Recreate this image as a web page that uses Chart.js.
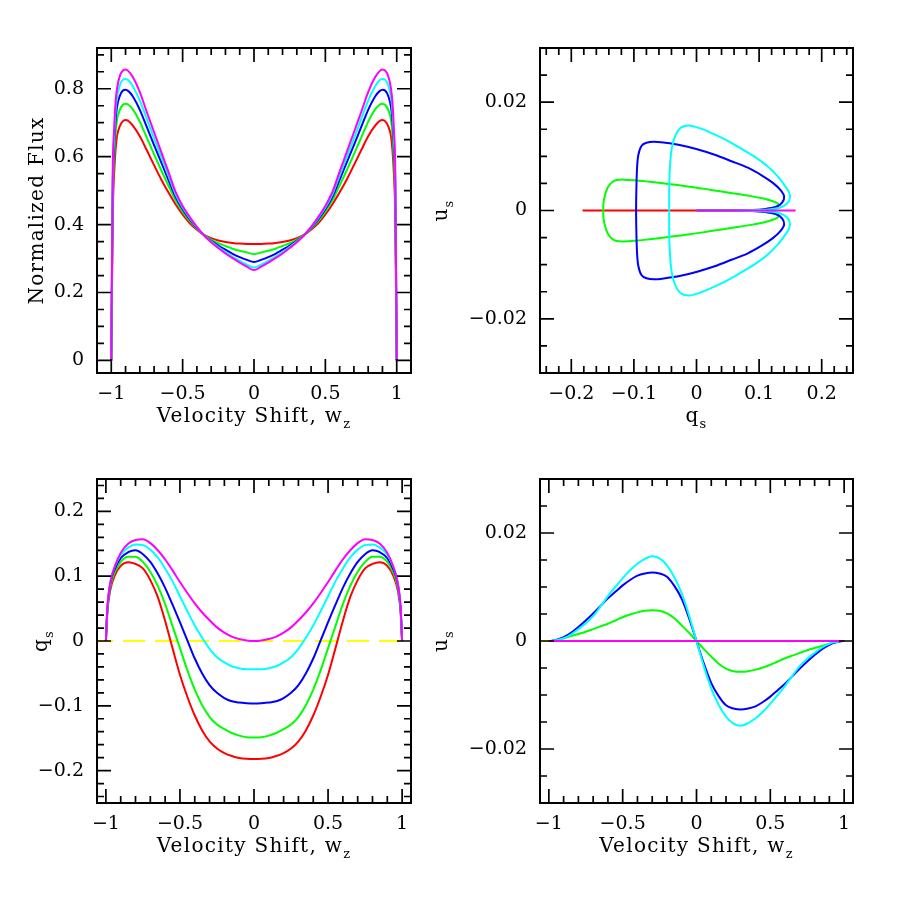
<!DOCTYPE html>
<html>
<head>
<meta charset="utf-8">
<script src="https://cdn.jsdelivr.net/npm/chart.js@4.4.1/dist/chart.umd.min.js"></script>
<style>
  html, body { margin: 0; padding: 0; background: #fff; }
  #page { position: relative; width: 900px; height: 900px; overflow: hidden; background: #fff; }
  canvas { position: absolute; }
</style>
</head>
<body>
<div id="page">
  <canvas id="flux"></canvas>
  <canvas id="qu"></canvas>
  <canvas id="qs"></canvas>
  <canvas id="us"></canvas>
</div>
<script>
// ---- top-left: normalized flux vs velocity shift
const wFlux = [-1, -0.99, -0.98, -0.97, -0.96, -0.94, -0.92, -0.9, -0.88, -0.85, -0.8, -0.75, -0.7, -0.65, -0.6, -0.55, -0.5, -0.45, -0.4, -0.35, -0.3, -0.25, -0.2, -0.15, -0.1, -0.05,
  0, 0.05, 0.1, 0.15, 0.2, 0.25, 0.3, 0.35, 0.4, 0.45, 0.5, 0.55, 0.6, 0.65, 0.7, 0.75, 0.8, 0.85, 0.88, 0.9, 0.92, 0.94, 0.96, 0.97, 0.98, 0.99, 1];
const fluxRed = [0, 0.42, 0.55, 0.62, 0.66, 0.69, 0.704, 0.708, 0.705, 0.692, 0.66, 0.618, 0.575, 0.533, 0.495, 0.46, 0.43, 0.404, 0.385, 0.37, 0.36, 0.353, 0.349, 0.346, 0.344, 0.343,
  0.343, 0.343, 0.344, 0.346, 0.349, 0.353, 0.36, 0.37, 0.385, 0.404, 0.43, 0.46, 0.495, 0.533, 0.575, 0.618, 0.66, 0.692, 0.705, 0.708, 0.704, 0.69, 0.66, 0.62, 0.55, 0.42, 0];
const fluxGreen = [0, 0.46, 0.595, 0.668, 0.708, 0.738, 0.752, 0.756, 0.753, 0.74, 0.703, 0.655, 0.607, 0.56, 0.515, 0.472, 0.438, 0.41, 0.388, 0.37, 0.356, 0.345, 0.337, 0.329, 0.323, 0.318,
  0.313, 0.318, 0.323, 0.329, 0.337, 0.345, 0.356, 0.37, 0.388, 0.41, 0.438, 0.472, 0.515, 0.56, 0.607, 0.655, 0.703, 0.74, 0.753, 0.756, 0.752, 0.738, 0.708, 0.668, 0.595, 0.46, 0];
const fluxBlue = [0, 0.5, 0.63, 0.705, 0.746, 0.779, 0.794, 0.797, 0.793, 0.778, 0.738, 0.686, 0.634, 0.583, 0.532, 0.482, 0.445, 0.415, 0.39, 0.369, 0.352, 0.338, 0.326, 0.314, 0.304, 0.296,
  0.29, 0.296, 0.304, 0.314, 0.326, 0.338, 0.352, 0.369, 0.39, 0.415, 0.445, 0.482, 0.532, 0.583, 0.634, 0.686, 0.738, 0.778, 0.793, 0.797, 0.794, 0.779, 0.746, 0.705, 0.63, 0.5, 0];
const fluxCyan = [0, 0.525, 0.655, 0.735, 0.775, 0.81, 0.826, 0.829, 0.825, 0.808, 0.765, 0.71, 0.654, 0.6, 0.545, 0.49, 0.45, 0.419, 0.392, 0.368, 0.35, 0.334, 0.319, 0.305, 0.293, 0.282,
  0.274, 0.282, 0.293, 0.305, 0.319, 0.334, 0.35, 0.368, 0.392, 0.419, 0.45, 0.49, 0.545, 0.6, 0.654, 0.71, 0.765, 0.808, 0.825, 0.829, 0.826, 0.81, 0.775, 0.735, 0.655, 0.525, 0];
const fluxMagenta = [0, 0.55, 0.68, 0.76, 0.8, 0.838, 0.853, 0.857, 0.852, 0.835, 0.79, 0.73, 0.672, 0.614, 0.556, 0.497, 0.455, 0.422, 0.393, 0.368, 0.348, 0.331, 0.315, 0.301, 0.288, 0.276,
  0.266, 0.276, 0.288, 0.301, 0.315, 0.331, 0.348, 0.368, 0.393, 0.422, 0.455, 0.497, 0.556, 0.614, 0.672, 0.73, 0.79, 0.835, 0.852, 0.857, 0.853, 0.838, 0.8, 0.76, 0.68, 0.55, 0];

// ---- polarization q_s and u_s vs velocity shift (same grid, also used for the q-u plane)
const wPol = [-1, -0.99, -0.97, -0.94, -0.9, -0.85, -0.8, -0.75, -0.7, -0.65, -0.6, -0.55, -0.5, -0.45, -0.4, -0.35, -0.3, -0.25, -0.2, -0.15, -0.1, -0.05,
  0, 0.05, 0.1, 0.15, 0.2, 0.25, 0.3, 0.35, 0.4, 0.45, 0.5, 0.55, 0.6, 0.65, 0.7, 0.75, 0.8, 0.85, 0.9, 0.94, 0.97, 0.99, 1];
const qRed = [0, 0.045, 0.079, 0.101, 0.116, 0.1215, 0.119, 0.112, 0.094, 0.068, 0.031, -0.011, -0.052, -0.086, -0.115, -0.138, -0.155, -0.166, -0.173, -0.1775, -0.1805, -0.1817,
  -0.182, -0.1817, -0.1805, -0.1775, -0.173, -0.166, -0.155, -0.138, -0.115, -0.086, -0.052, -0.011, 0.031, 0.068, 0.094, 0.112, 0.119, 0.1215, 0.116, 0.101, 0.079, 0.045, 0];
const qGreen = [0, 0.047, 0.084, 0.106, 0.122, 0.13, 0.13, 0.122, 0.107, 0.085, 0.057, 0.023, -0.011, -0.045, -0.075, -0.099, -0.117, -0.129, -0.136, -0.142, -0.146, -0.1485,
  -0.149, -0.1485, -0.146, -0.142, -0.136, -0.129, -0.117, -0.099, -0.075, -0.045, -0.011, 0.023, 0.057, 0.085, 0.107, 0.122, 0.13, 0.13, 0.122, 0.106, 0.084, 0.047, 0];
const qBlue = [0, 0.049, 0.089, 0.111, 0.128, 0.137, 0.14, 0.134, 0.122, 0.104, 0.082, 0.056, 0.029, 0.001, -0.027, -0.05, -0.068, -0.08, -0.088, -0.093, -0.095, -0.096,
  -0.0965, -0.096, -0.095, -0.093, -0.088, -0.08, -0.068, -0.05, -0.027, 0.001, 0.029, 0.056, 0.082, 0.104, 0.122, 0.134, 0.14, 0.137, 0.128, 0.111, 0.089, 0.049, 0];
const qCyan = [0, 0.05, 0.092, 0.115, 0.133, 0.144, 0.149, 0.148, 0.141, 0.129, 0.112, 0.092, 0.069, 0.046, 0.024, 0.005, -0.012, -0.025, -0.033, -0.039, -0.042, -0.0435,
  -0.0437, -0.0435, -0.042, -0.039, -0.033, -0.025, -0.012, 0.005, 0.024, 0.046, 0.069, 0.092, 0.112, 0.129, 0.141, 0.148, 0.149, 0.144, 0.133, 0.115, 0.092, 0.05, 0];
const qMagenta = [0, 0.052, 0.09, 0.115, 0.136, 0.15, 0.156, 0.157, 0.151, 0.14, 0.126, 0.109, 0.091, 0.074, 0.058, 0.044, 0.032, 0.021, 0.013, 0.0068, 0.003, 0.0008,
  0, 0.0008, 0.003, 0.0068, 0.013, 0.021, 0.032, 0.044, 0.058, 0.074, 0.091, 0.109, 0.126, 0.14, 0.151, 0.157, 0.156, 0.15, 0.136, 0.115, 0.09, 0.052, 0];

const uRed = [0, 0, 0, 0, 0, 0, 0, 0, 0, 0, 0, 0, 0, 0, 0, 0, 0, 0, 0, 0, 0, 0,
  0, 0, 0, 0, 0, 0, 0, 0, 0, 0, 0, 0, 0, 0, 0, 0, 0, 0, 0, 0, 0, 0, 0];
const uGreen = [0, 0, 0.0001, 0.0002, 0.0005, 0.0009, 0.0013, 0.0017, 0.0022, 0.0027, 0.0032, 0.0038, 0.0044, 0.0049, 0.0053, 0.0056, 0.0057, 0.0056, 0.0051, 0.0042, 0.0029, 0.0015,
  0, -0.0015, -0.0029, -0.0042, -0.0051, -0.0056, -0.0057, -0.0056, -0.0053, -0.0049, -0.0044, -0.0038, -0.0032, -0.0027, -0.0022, -0.0017, -0.0013, -0.0009, -0.0005, -0.0002, -0.0001, 0, 0];
const uBlue = [0, 0, 0.0001, 0.0003, 0.0007, 0.0015, 0.0026, 0.0038, 0.0051, 0.0065, 0.0079, 0.0091, 0.0103, 0.0113, 0.0121, 0.0125, 0.0127, 0.0125, 0.0119, 0.0102, 0.0078, 0.0042,
  0, -0.0042, -0.0078, -0.0102, -0.0119, -0.0125, -0.0127, -0.0125, -0.0121, -0.0113, -0.0103, -0.0091, -0.0079, -0.0065, -0.0051, -0.0038, -0.0026, -0.0015, -0.0007, -0.0003, -0.0001, 0, 0];
const uCyan = [0, 0, 0.0001, 0.0002, 0.0005, 0.0012, 0.0022, 0.0033, 0.0046, 0.0064, 0.0083, 0.01, 0.0116, 0.0131, 0.0143, 0.0152, 0.0157, 0.0153, 0.014, 0.0118, 0.0088, 0.0047,
  0, -0.0047, -0.0088, -0.0118, -0.014, -0.0153, -0.0157, -0.0152, -0.0143, -0.0131, -0.0116, -0.01, -0.0083, -0.0064, -0.0046, -0.0033, -0.0022, -0.0012, -0.0005, -0.0002, -0.0001, 0, 0];
const uMagenta = [0, 0, 0, 0, 0, 0, 0, 0, 0, 0, 0, 0, 0, 0, 0, 0, 0, 0, 0, 0, 0, 0,
  0, 0, 0, 0, 0, 0, 0, 0, 0, 0, 0, 0, 0, 0, 0, 0, 0, 0, 0, 0, 0, 0, 0];

// zero reference (yellow dashed)
const zeroLineX = [-1.1, 1];
const zeroLineY = [0, 0];

const colors = { red: '#ff0000', green: '#00ff00', blue: '#0000ff', cyan: '#00ffff', magenta: '#ff00ff', yellow: '#ffff00' };

// ---------- helpers
function fmt(v) {
  const r = Math.round(v * 1e6) / 1e6;
  return r === 0 ? '0' : String(r).replace('-', '\u2212');
}

function pts(xs, ys) {
  return xs.map((x, i) => ({ x: x, y: ys[i] }));
}

// order: lower numbers are painted last (on top)
function line(xs, ys, color, order, extra) {
  return Object.assign({
    data: pts(xs, ys),
    showLine: true,
    borderColor: color,
    borderWidth: 2,
    pointRadius: 0,
    fill: false,
    order: order,
    cubicInterpolationMode: 'monotone'
  }, extra || {});
}

function majorValues(min, max, step) {
  const out = [];
  const n0 = Math.ceil(min / step - 1e-6), n1 = Math.floor(max / step + 1e-6);
  for (let n = n0; n <= n1; n++) out.push({ value: Math.round(n * step * 1e6) / 1e6 });
  return out;
}

function tickMarks(scale, minor, major, cb) {
  const n0 = Math.ceil(scale.min / minor - 1e-6);
  const n1 = Math.floor(scale.max / minor + 1e-6);
  for (let n = n0; n <= n1; n++) {
    const v = n * minor;
    const isMajor = Math.abs(v / major - Math.round(v / major)) < 1e-6;
    cb(scale.getPixelForValue(v), isMajor ? 14 : 7);
  }
}

function axisTitle(ctx, main, sub, cx, cy, rotate) {
  ctx.save();
  ctx.translate(cx, cy);
  if (rotate) ctx.rotate(-Math.PI / 2);
  ctx.textAlign = 'left';
  ctx.textBaseline = 'alphabetic';
  ctx.letterSpacing = '1.3px';
  ctx.font = '20px "DejaVu Serif"';
  const w1 = ctx.measureText(main).width;
  ctx.font = '13px "DejaVu Serif"';
  const w2 = sub ? ctx.measureText(sub).width : 0;
  const x0 = -(w1 + w2) / 2;
  ctx.font = '20px "DejaVu Serif"';
  ctx.fillText(main, x0, 0);
  if (sub) {
    ctx.font = '13px "DejaVu Serif"';
    ctx.fillText(sub, x0 + w1, 6);
  }
  ctx.restore();
}

// frame with inward ticks on all four sides, plus axis titles
const frameTicks = {
  id: 'frameTicks',
  afterDatasetsDraw(chart, args, o) {
    const ctx = chart.ctx, a = chart.chartArea;
    const sx = chart.scales.x, sy = chart.scales.y;
    ctx.save();
    ctx.strokeStyle = '#000';
    ctx.lineWidth = 1.7;
    ctx.beginPath();
    tickMarks(sx, o.xMinor, o.xMajor, (p, len) => {
      ctx.moveTo(p, a.bottom); ctx.lineTo(p, a.bottom - len);
      ctx.moveTo(p, a.top); ctx.lineTo(p, a.top + len);
    });
    tickMarks(sy, o.yMinor, o.yMajor, (p, len) => {
      ctx.moveTo(a.left, p); ctx.lineTo(a.left + len, p);
      ctx.moveTo(a.right, p); ctx.lineTo(a.right - len, p);
    });
    ctx.stroke();
    ctx.lineWidth = 2;
    ctx.strokeRect(a.left, a.top, a.right - a.left, a.bottom - a.top);
    ctx.fillStyle = '#000';
    axisTitle(ctx, o.xTitle, o.xSub, (a.left + a.right) / 2, a.bottom + 49, false);
    axisTitle(ctx, o.yTitle, o.ySub, a.left - o.yGap, (a.top + a.bottom) / 2, true);
    ctx.restore();
  }
};

function makeChart(id, box, area, datasets, ax) {
  const cv = document.getElementById(id);
  cv.width = box.w; cv.height = box.h;
  cv.style.left = box.left + 'px';
  cv.style.top = box.top + 'px';
  const yw = area.l - box.left;
  const xh = box.top + box.h - area.b;
  const tickFont = { family: 'DejaVu Serif', size: 19 };
  return new Chart(cv, {
    type: 'scatter',
    data: { datasets: datasets },
    options: {
      responsive: false,
      animation: false,
      devicePixelRatio: 1,
      events: [],
      layout: { padding: { left: 0, top: area.t - box.top, right: box.left + box.w - area.r, bottom: 0 } },
      plugins: {
        legend: { display: false },
        tooltip: { enabled: false },
        frameTicks: ax
      },
      scales: {
        x: {
          type: 'linear', position: 'bottom', min: ax.xMin, max: ax.xMax,
          grid: { display: false, drawTicks: false }, border: { display: false },
          ticks: { autoSkip: false, maxRotation: 0, padding: 10, color: '#000', font: tickFont, callback: fmt },
          afterBuildTicks: (s) => { s.ticks = majorValues(ax.xMin, ax.xMax, ax.xMajor); },
          afterFit: (s) => { s.height = xh; }
        },
        y: {
          type: 'linear', position: 'left', min: ax.yMin, max: ax.yMax,
          grid: { display: false, drawTicks: false }, border: { display: false },
          ticks: { autoSkip: false, padding: 13, color: '#000', font: tickFont, callback: fmt },
          afterBuildTicks: (s) => { s.ticks = majorValues(ax.yMin, ax.yMax, ax.yMajor); },
          afterFit: (s) => { s.width = yw; }
        }
      }
    },
    plugins: [frameTicks]
  });
}

// top-left: flux profiles
makeChart('flux', { left: 0, top: 0, w: 450, h: 450 }, { l: 97, t: 48, r: 411, b: 373 }, [
  line(wFlux, fluxRed, colors.red, 4),
  line(wFlux, fluxGreen, colors.green, 3),
  line(wFlux, fluxBlue, colors.blue, 2),
  line(wFlux, fluxCyan, colors.cyan, 1),
  line(wFlux, fluxMagenta, colors.magenta, 0)
], { xMin: -1.1, xMax: 1.1, xMajor: 0.5, xMinor: 0.1, yMin: -0.037, yMax: 0.92, yMajor: 0.2, yMinor: 0.05,
     xTitle: 'Velocity Shift, w', xSub: 'z', yTitle: 'Normalized Flux', ySub: '', yGap: 54 });

// top-right: q-u plane, built from the q_s and u_s series
const loop = { cubicInterpolationMode: 'default', tension: 0.3 };
makeChart('qu', { left: 420, top: 0, w: 480, h: 450 }, { l: 540, t: 48, r: 853, b: 373 }, [
  line(qRed, uRed, colors.red, 4, loop),
  line(qGreen, uGreen, colors.green, 3, loop),
  line(qBlue, uBlue, colors.blue, 2, loop),
  line(qCyan, uCyan, colors.cyan, 1, loop),
  line(qMagenta, uMagenta, colors.magenta, 0, loop)
], { xMin: -0.25, xMax: 0.25, xMajor: 0.1, xMinor: 0.02, yMin: -0.03, yMax: 0.03, yMajor: 0.02, yMinor: 0.005,
     xTitle: 'q', xSub: 's', yTitle: 'u', ySub: 's', yGap: 93 });

// bottom-left: q_s vs velocity shift
makeChart('qs', { left: 0, top: 420, w: 450, h: 480 }, { l: 97, t: 479, r: 411, b: 803 }, [
  line(zeroLineX, zeroLineY, colors.yellow, 5, { borderDash: [22, 10] }),
  line(wPol, qRed, colors.red, 4),
  line(wPol, qGreen, colors.green, 3),
  line(wPol, qBlue, colors.blue, 2),
  line(wPol, qCyan, colors.cyan, 1),
  line(wPol, qMagenta, colors.magenta, 0)
], { xMin: -1.06, xMax: 1.06, xMajor: 0.5, xMinor: 0.1, yMin: -0.25, yMax: 0.25, yMajor: 0.1, yMinor: 0.02,
     xTitle: 'Velocity Shift, w', xSub: 'z', yTitle: 'q', ySub: 's', yGap: 50 });

// bottom-right: u_s vs velocity shift
makeChart('us', { left: 420, top: 420, w: 480, h: 480 }, { l: 540, t: 479, r: 853, b: 803 }, [
  line(zeroLineX, zeroLineY, colors.yellow, 5, { borderDash: [22, 10] }),
  line(wPol, uRed, colors.red, 4),
  line(wPol, uGreen, colors.green, 3),
  line(wPol, uBlue, colors.blue, 2),
  line(wPol, uCyan, colors.cyan, 1),
  line(wPol, uMagenta, colors.magenta, 0)
], { xMin: -1.06, xMax: 1.06, xMajor: 0.5, xMinor: 0.1, yMin: -0.03, yMax: 0.03, yMajor: 0.02, yMinor: 0.005,
     xTitle: 'Velocity Shift, w', xSub: 'z', yTitle: 'u', ySub: 's', yGap: 93 });
</script>
</body>
</html>
